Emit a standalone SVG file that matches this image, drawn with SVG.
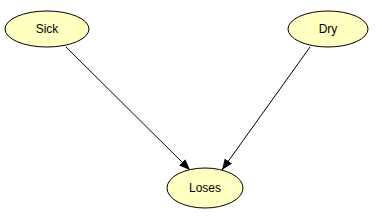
<svg xmlns="http://www.w3.org/2000/svg" width="382" height="221" viewBox="0 0 382 221">
<defs>
<style>
.node ellipse{fill:#ffffc0;stroke:#000;stroke-width:1}
.node text{font-family:"Liberation Sans",Arial,sans-serif;font-size:12px;fill:#000;text-anchor:middle}
.edge{stroke:#000;stroke-width:1;fill:none}
</style>
<marker id="arr" viewBox="0 0 10 10" refX="10" refY="5" markerWidth="11" markerHeight="11" markerUnits="userSpaceOnUse" orient="auto">
<path d="M0,1 L10,5 L0,9 Z" fill="#000"/>
</marker>
</defs>
<rect width="382" height="221" fill="#fff"/>
<g id="edges">
<path class="edge" d="M66,47 L190,170" marker-end="url(#arr)"/>
<path class="edge" d="M310,47 L222,170" marker-end="url(#arr)"/>
</g>
<g id="Sick" class="node">
<ellipse cx="47" cy="29" rx="42" ry="18"/>
<text x="47" y="33">Sick</text>
</g>
<g id="Dry" class="node">
<ellipse cx="328" cy="29" rx="40" ry="18"/>
<text x="328" y="33">Dry</text>
</g>
<g id="Loses" class="node">
<ellipse cx="205" cy="188" rx="38" ry="20"/>
<text x="205" y="192">Loses</text>
</g>
</svg>
